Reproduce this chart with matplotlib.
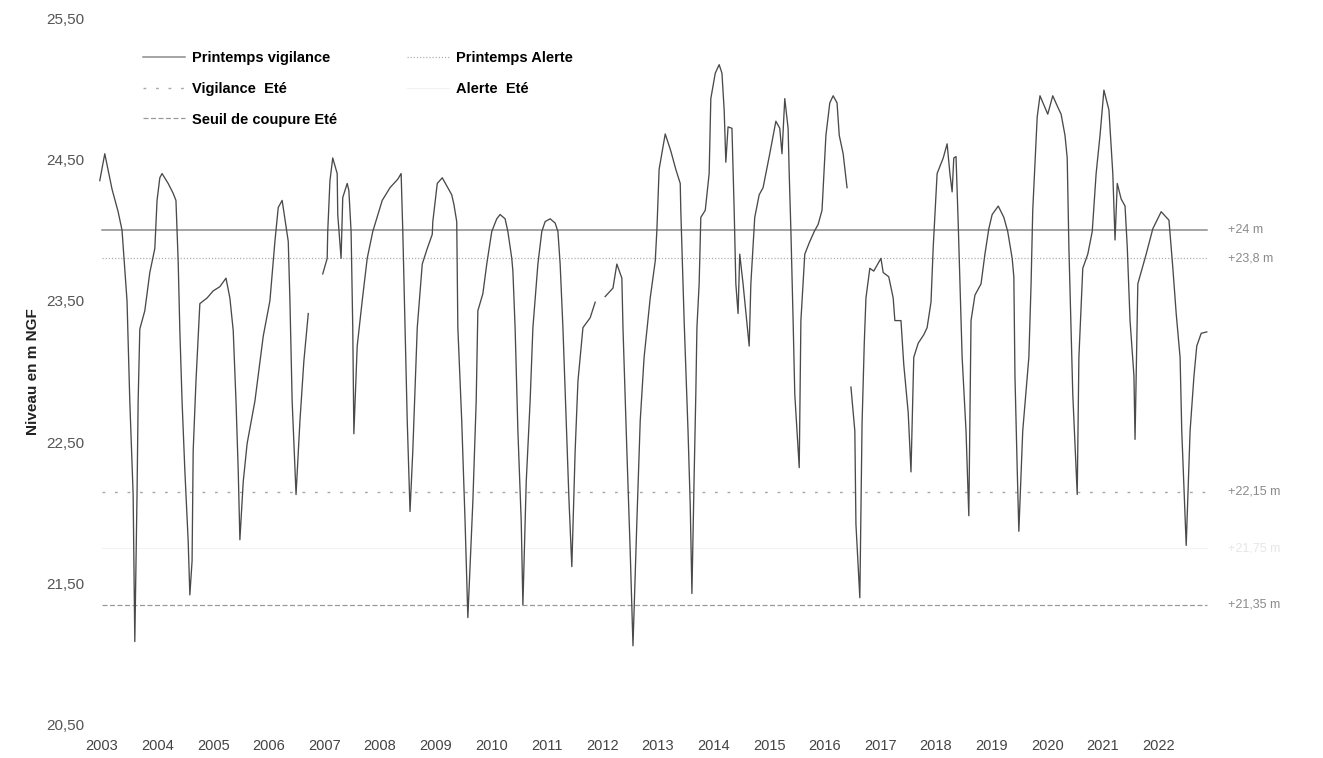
import matplotlib

matplotlib.use("Agg")
import matplotlib.pyplot as plt
import matplotlib.transforms as mtransforms
import numpy as np

# water level (m NGF), dates as decimal years
DATES = [
    2002.96, 2003.05, 2003.18, 2003.29, 2003.36, 2003.45, 2003.50, 2003.56, 2003.59,
    2003.63, 2003.65, 2003.68, 2003.77, 2003.86, 2003.95, 2003.99, 2004.04, 2004.08,
    2004.19, 2004.28, 2004.33, 2004.37, 2004.40, 2004.44, 2004.49, 2004.55, 2004.58,
    2004.62, 2004.64, 2004.69, 2004.76, 2004.89, 2005.00, 2005.12, 2005.23, 2005.30,
    2005.36, 2005.41, 2005.45, 2005.48, 2005.54, 2005.61, 2005.75, 2005.90, 2006.02,
    2006.11, 2006.17, 2006.24, 2006.29, 2006.35, 2006.38, 2006.42, 2006.45, 2006.49,
    2006.56, 2006.63, 2006.71, 2006.84, 2006.97, 2007.05, 2007.06, 2007.10, 2007.15,
    2007.23, 2007.24, 2007.30, 2007.33, 2007.41, 2007.44, 2007.48, 2007.51, 2007.53,
    2007.59, 2007.64, 2007.68, 2007.77, 2007.87, 2008.04, 2008.18, 2008.32, 2008.38,
    2008.41, 2008.45, 2008.49, 2008.54, 2008.59, 2008.67, 2008.76, 2008.85, 2008.94,
    2008.95, 2009.03, 2009.12, 2009.29, 2009.33, 2009.38, 2009.40, 2009.47, 2009.53,
    2009.58, 2009.67, 2009.73, 2009.76, 2009.85, 2009.92, 2010.01, 2010.10, 2010.16,
    2010.25, 2010.30, 2010.37, 2010.39, 2010.43, 2010.48, 2010.54, 2010.57, 2010.63,
    2010.70, 2010.75, 2010.84, 2010.91, 2010.97, 2011.06, 2011.15, 2011.20, 2011.24,
    2011.29, 2011.35, 2011.40, 2011.45, 2011.51, 2011.56, 2011.65, 2011.78, 2011.87,
    2011.96, 2012.05, 2012.19, 2012.26, 2012.35, 2012.37, 2012.44, 2012.50, 2012.55,
    2012.62, 2012.68, 2012.75, 2012.86, 2012.95, 2012.98, 2013.02, 2013.13, 2013.23,
    2013.32, 2013.40, 2013.41, 2013.47, 2013.54, 2013.58, 2013.61, 2013.65, 2013.68,
    2013.70, 2013.74, 2013.77, 2013.85, 2013.92, 2013.95, 2014.03, 2014.10, 2014.15,
    2014.19, 2014.22, 2014.26, 2014.33, 2014.37, 2014.40, 2014.44, 2014.47, 2014.53,
    2014.64, 2014.67, 2014.74, 2014.82, 2014.89, 2015.01, 2015.12, 2015.19, 2015.23,
    2015.28, 2015.34, 2015.36, 2015.39, 2015.43, 2015.46, 2015.54, 2015.57, 2015.64,
    2015.72, 2015.81, 2015.88, 2015.95, 2016.02, 2016.09, 2016.15, 2016.22, 2016.26,
    2016.33, 2016.40, 2016.44, 2016.47, 2016.54, 2016.56, 2016.63, 2016.67, 2016.71,
    2016.74, 2016.81, 2016.88, 2017.01, 2017.05, 2017.15, 2017.23, 2017.26, 2017.37,
    2017.42, 2017.50, 2017.55, 2017.60, 2017.68, 2017.78, 2017.84, 2017.91, 2017.95,
    2018.02, 2018.13, 2018.20, 2018.25, 2018.29, 2018.32, 2018.36, 2018.40, 2018.47,
    2018.54, 2018.59, 2018.63, 2018.70, 2018.81, 2018.88, 2018.95, 2019.01, 2019.12,
    2019.22, 2019.29, 2019.37, 2019.40, 2019.42, 2019.46, 2019.49, 2019.56, 2019.67,
    2019.71, 2019.74, 2019.82, 2019.87, 2020.01, 2020.10, 2020.19, 2020.25, 2020.32,
    2020.36, 2020.39, 2020.46, 2020.54, 2020.57, 2020.64, 2020.73, 2020.81, 2020.88,
    2020.95, 2021.02, 2021.11, 2021.18, 2021.22, 2021.26, 2021.33, 2021.40, 2021.44,
    2021.49, 2021.56, 2021.58, 2021.63, 2021.78, 2021.90, 2022.05, 2022.19, 2022.26,
    2022.32, 2022.39, 2022.42, 2022.50, 2022.57, 2022.64, 2022.69, 2022.77, 2022.87,
]
LEVELS = [
    24.35, 24.54, 24.29, 24.13, 24.00, 23.50, 22.79, 22.13, 21.09,
    22.13, 22.79, 23.30, 23.43, 23.70, 23.87, 24.21, 24.37, 24.40,
    24.33, 24.26, 24.21, 23.78, 23.29, 22.79, 22.30, 21.80, 21.42,
    21.66, 22.44, 22.93, 23.48, 23.52, 23.57, 23.60, 23.66, 23.52,
    23.29, 22.79, 22.30, 21.81, 22.22, 22.49, 22.79, 23.25, 23.50,
    23.92, 24.16, 24.21, 24.08, 23.92, 23.50, 22.79, 22.51, 22.13,
    22.65, 23.07, 23.41, np.nan, 23.69, 23.80, 23.99, 24.35, 24.51,
    24.40, 24.11, 23.80, 24.23, 24.33, 24.28, 23.99, 23.31, 22.56,
    23.18, 23.36, 23.50, 23.80, 23.99, 24.21, 24.30, 24.36, 24.40,
    23.99, 23.31, 22.65, 22.01, 22.44, 23.31, 23.76, 23.87, 23.97,
    24.06, 24.33, 24.37, 24.25, 24.18, 24.06, 23.31, 22.65, 21.94,
    21.26, 22.08, 22.79, 23.43, 23.55, 23.76, 23.99, 24.08, 24.11,
    24.08, 23.99, 23.80, 23.71, 23.31, 22.58, 21.94, 21.35, 22.22,
    22.79, 23.31, 23.76, 23.99, 24.06, 24.08, 24.05, 23.99, 23.76,
    23.31, 22.65, 22.08, 21.62, 22.44, 22.93, 23.31, 23.38, 23.49,
    np.nan, 23.53, 23.59, 23.76, 23.66, 23.31, 22.44, 21.73, 21.06,
    21.94, 22.65, 23.10, 23.52, 23.78, 24.00, 24.43, 24.68, 24.56,
    24.43, 24.33, 24.14, 23.36, 22.58, 22.05, 21.43, 22.26, 22.84,
    23.31, 23.62, 24.09, 24.14, 24.40, 24.93, 25.11, 25.17, 25.11,
    24.85, 24.48, 24.73, 24.72, 24.14, 23.62, 23.41, 23.83, 23.62,
    23.18, 23.62, 24.09, 24.25, 24.30, 24.54, 24.77, 24.72, 24.54,
    24.93, 24.72, 24.40, 24.00, 23.36, 22.84, 22.32, 23.36, 23.83,
    23.91, 23.99, 24.04, 24.14, 24.67, 24.90, 24.95, 24.90, 24.67,
    24.54, 24.30, np.nan, 22.89, 22.58, 21.92, 21.40, 22.63, 23.20,
    23.52, 23.73, 23.71, 23.80, 23.70, 23.67, 23.52, 23.36, 23.36,
    23.05, 22.71, 22.29, 23.10, 23.20, 23.26, 23.31, 23.49, 23.88,
    24.40, 24.51, 24.61, 24.40, 24.27, 24.51, 24.52, 24.04, 23.10,
    22.58, 21.98, 23.36, 23.54, 23.62, 23.83, 24.01, 24.11, 24.17,
    24.09, 23.99, 23.80, 23.67, 22.97, 22.32, 21.87, 22.58, 23.10,
    23.62, 24.14, 24.80, 24.95, 24.82, 24.95, 24.87, 24.82, 24.67,
    24.51, 23.88, 22.84, 22.13, 23.10, 23.73, 23.83, 23.99, 24.40,
    24.67, 24.99, 24.85, 24.40, 23.93, 24.33, 24.22, 24.17, 23.88,
    23.36, 22.97, 22.52, 23.62, 23.83, 24.01, 24.13, 24.07, 23.73,
    23.41, 23.10, 22.58, 21.77, 22.58, 22.97, 23.18, 23.27, 23.28,
]

# thresholds (m NGF)
THRESH_NAMES = ["Printemps vigilance", "Vigilance  Eté", "Seuil de coupure Eté",
                "Printemps Alerte", "Alerte  Eté"]
THRESH_VALUES = [24.0, 22.15, 21.35, 23.8, 21.75]
THRESH_TAGS = ["+24 m", "+22,15 m", "+21,35 m", "+23,8 m", "+21,75 m"]
THRESH_PERIOD = [2003.0, 2022.88]

YEARS = list(range(2003, 2023))
Y_TICKS = [20.5, 21.5, 22.5, 23.5, 24.5, 25.5]

W, H = 1323, 758
fig = plt.figure(figsize=(W / 100, H / 100), dpi=100)
plt.rcParams["font.family"] = ["Liberation Sans", "DejaVu Sans"]

ax_left, ax_right, ax_top, ax_bottom = 95, 1215, 18, 725
ax = fig.add_axes([ax_left / W, 1 - ax_bottom / H, (ax_right - ax_left) / W, (ax_bottom - ax_top) / H])

px_per_year = 55.6
ax.set_xlim(2003 + (ax_left - 102) / px_per_year, 2003 + (ax_right - 102) / px_per_year)
ax.set_ylim(20.5, 25.5)

styles = [
    dict(color="#8c8c8c", linestyle="-", linewidth=1.1),
    dict(color="#a8a8a8", linestyle=(0, (2, 7)), linewidth=1.0),
    dict(color="#9a9a9a", linestyle=(0, (4, 2)), linewidth=0.9),
    dict(color="#b0b0b0", linestyle=(0, (1, 1.5)), linewidth=0.9),
    dict(color="#f2f2f2", linestyle="-", linewidth=0.8),
]
handles = []
for name, val, st in zip(THRESH_NAMES, THRESH_VALUES, styles):
    (h,) = ax.plot(THRESH_PERIOD, [val, val], label=name, zorder=1, **st)
    handles.append(h)

ax.plot(DATES, LEVELS, color="#4a4a4a", linewidth=0.95, zorder=3)

# right-hand threshold tags
tr = mtransforms.blended_transform_factory(ax.transAxes, ax.transData)
for tag, val in zip(THRESH_TAGS, THRESH_VALUES):
    col = "#e6e6e6" if tag == "+21,75 m" else "#8a8a8a"
    ax.text((1228 - ax_left) / (ax_right - ax_left), val, tag, transform=tr,
            ha="left", va="center", fontsize=9, color=col, clip_on=False)

ax.set_xticks(YEARS)
ax.set_xticklabels([str(y) for y in YEARS], fontsize=10.5, color="#444444")
ax.set_yticks(Y_TICKS)
ax.set_yticklabels([f"{v:.2f}".replace(".", ",") for v in Y_TICKS], fontsize=11, color="#555555")
ax.tick_params(axis="both", length=0)
ax.tick_params(axis="x", pad=10)
ax.tick_params(axis="y", pad=8)
for sp in ax.spines.values():
    sp.set_visible(False)

ax.set_ylabel("Niveau en m NGF", fontsize=11, fontweight="bold", color="#222222", labelpad=4)

ax.legend(handles=handles, ncol=2, loc="upper left", frameon=False,
          bbox_to_anchor=(143 / W, 1 - 51 / H), bbox_transform=fig.transFigure,
          prop={"weight": "bold", "size": 10.5}, handlelength=2.9, handletextpad=0.45,
          columnspacing=4.8, labelspacing=1.15, borderaxespad=0, borderpad=0)

fig.savefig("out.png", dpi=100)
